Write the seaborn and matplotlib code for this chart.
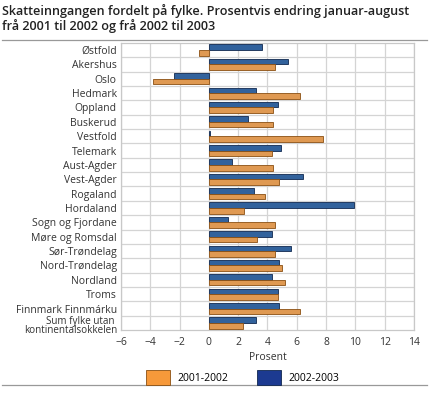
import pandas as pd
import matplotlib.pyplot as plt
import seaborn as sns
from matplotlib.patches import Patch
from matplotlib.lines import Line2D

# Fylke and change in percent
fylker = ['Østfold', 'Akershus', 'Oslo', 'Hedmark', 'Oppland', 'Buskerud', 'Vestfold',
          'Telemark', 'Aust-Agder', 'Vest-Agder', 'Rogaland', 'Hordaland',
          'Sogn og Fjordane', 'Møre og Romsdal', 'Sør-Trøndelag', 'Nord-Trøndelag',
          'Nordland', 'Troms', 'Finnmark Finnmárku',
          'Sum fylke utan \nkontinentalsokkelen']
endring_01_02 = [-0.7, 4.5, -3.8, 6.2, 4.4, 4.4, 7.8, 4.3, 4.4, 4.8,
                 3.8, 2.4, 4.5, 3.3, 4.5, 5.0, 5.2, 4.7, 6.2, 2.3]
endring_02_03 = [3.6, 5.4, -2.4, 3.2, 4.7, 2.7, 0.1, 4.9, 1.6, 6.4,
                 3.1, 9.9, 1.3, 4.3, 5.6, 4.8, 4.3, 4.7, 4.8, 3.2]
perioder = ['2001-2002', '2002-2003']
farger = {'2001-2002': '#F7993A', '2002-2003': '#2060AE'}
kanter = {'2001-2002': '#8a4f12', '2002-2003': '#10284f'}

df = pd.DataFrame({'fylke': fylker * 2,
                   'endring': endring_01_02 + endring_02_03,
                   'periode': [perioder[0]] * len(fylker) + [perioder[1]] * len(fylker)})

plt.rcParams['font.family'] = ['Open Sans', 'DejaVu Sans']
fig = plt.figure(figsize=(4.29, 3.93), dpi=100)
ax = fig.add_axes([0.282, 0.160, 0.683, 0.731])

# 2002-2003 is drawn on top in each group
sns.barplot(data=df, y='fylke', x='endring', hue='periode',
            hue_order=['2002-2003', '2001-2002'], palette=farger,
            orient='h', width=0.78, ax=ax, legend=False, zorder=3)
for cont, per in zip(ax.containers, ['2002-2003', '2001-2002']):
    for bar in cont:
        bar.set_edgecolor(kanter[per])
        bar.set_linewidth(0.6)

ax.set_xlim(-6, 14)
ax.set_xticks(range(-6, 15, 2))
ax.set_ylim(len(fylker) - 0.5, -0.5)
ax.set_yticks(range(len(fylker)))
# last label is two lines, placed by hand a little lower so it clears Finnmark
ax.set_yticklabels(fylker[:-1] + [''], fontsize=7.5, color='#333333')
ax.text(-0.012, len(fylker) - 1 + 0.22, fylker[-1], transform=ax.get_yaxis_transform(),
        ha='right', va='center', fontsize=7.1, color='#333333', linespacing=0.78)
ax.tick_params(axis='x', labelsize=7.5, colors='#333333', length=0, pad=5)
ax.tick_params(axis='y', length=0, pad=3)
ax.set_ylabel('')
ax.set_xlabel('Prosent', fontsize=7.5, color='#333333', labelpad=3)

ax.grid(axis='x', color='#d4d4d4', linewidth=0.9, zorder=0)
for i in range(len(fylker) - 1):
    ax.axhline(i + 0.5, color='#d4d4d4', linewidth=0.9, zorder=0)
for s in ax.spines.values():
    s.set_color('#c8c8c8')
    s.set_linewidth(0.9)

fig.text(0.004, 0.99, 'Skatteinngangen fordelt på fylke. Prosentvis endring januar-august\n'
         'frå 2001 til 2002 og frå 2002 til 2003', ha='left', va='top',
         fontsize=9.1, fontweight='semibold', color='#222222', linespacing=1.1)
fig.add_artist(Line2D([0.005, 0.995], [0.897, 0.897], color='#999999', linewidth=0.9))
fig.add_artist(Line2D([0.005, 0.995], [0.020, 0.020], color='#999999', linewidth=0.9))

handles = [Patch(facecolor='#F7993A', edgecolor='#8a4f12', linewidth=0.6),
           Patch(facecolor='#1C3A91', edgecolor='#10284f', linewidth=0.6)]
fig.legend(handles, perioder, loc='center', bbox_to_anchor=(0.566, 0.040),
           ncol=2, frameon=False, fontsize=7.5, handlelength=2.3, handleheight=1.9,
           columnspacing=2.8, handletextpad=0.7, borderaxespad=0)

fig.savefig('out.png', dpi=100)
